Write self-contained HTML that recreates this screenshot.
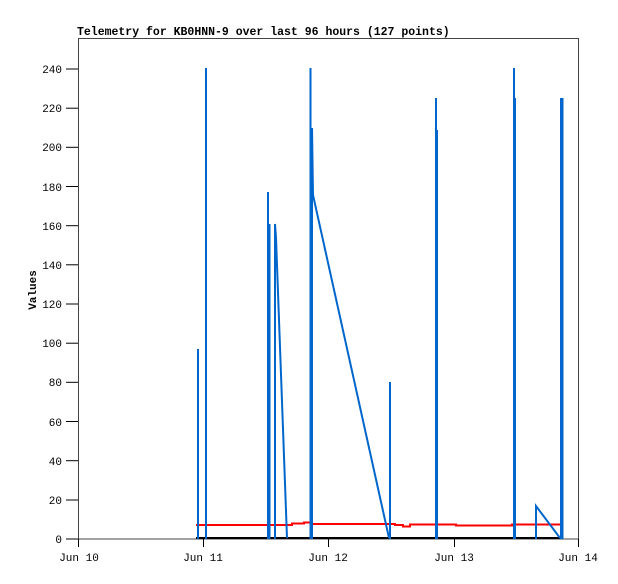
<!DOCTYPE html>
<html><head><meta charset="utf-8"><style>
html,body{margin:0;padding:0;background:#fff;}
svg text{font-family:"Liberation Mono","DejaVu Sans Mono",monospace;font-size:11px;fill:#000;}
</style></head><body>
<svg width="618" height="579" viewBox="0 0 618 579" xmlns="http://www.w3.org/2000/svg">
<rect width="618" height="579" fill="#fff"/>
<text x="77" y="35" style="font-weight:bold;font-size:11.5px">Telemetry for KB0HNN-9 over last 96 hours (127 points)</text>
<rect x="78.5" y="38.5" width="500" height="500.5" fill="none" stroke="#444" stroke-width="1"/>
<g stroke="#000" stroke-width="1">
<line x1="66" y1="539" x2="78" y2="539"/>
<line x1="66" y1="500" x2="78" y2="500"/>
<line x1="66" y1="460.7" x2="78" y2="460.7"/>
<line x1="66" y1="421.5" x2="78" y2="421.5"/>
<line x1="66" y1="382.3" x2="78" y2="382.3"/>
<line x1="66" y1="343.2" x2="78" y2="343.2"/>
<line x1="66" y1="304" x2="78" y2="304"/>
<line x1="66" y1="264.8" x2="78" y2="264.8"/>
<line x1="66" y1="225.7" x2="78" y2="225.7"/>
<line x1="66" y1="186.5" x2="78" y2="186.5"/>
<line x1="66" y1="147.3" x2="78" y2="147.3"/>
<line x1="66" y1="108.2" x2="78" y2="108.2"/>
<line x1="66" y1="69" x2="78" y2="69"/>
<line x1="78.5" y1="539" x2="78.5" y2="547"/>
<line x1="203.5" y1="539" x2="203.5" y2="547"/>
<line x1="328.5" y1="539" x2="328.5" y2="547"/>
<line x1="454.5" y1="539" x2="454.5" y2="547"/>
<line x1="578.5" y1="539" x2="578.5" y2="547"/>
</g>
<g text-anchor="end">
<text x="62" y="543">0</text>
<text x="62" y="504">20</text>
<text x="62" y="465">40</text>
<text x="62" y="426">60</text>
<text x="62" y="386">80</text>
<text x="62" y="347">100</text>
<text x="62" y="308">120</text>
<text x="62" y="269">140</text>
<text x="62" y="230">160</text>
<text x="62" y="191">180</text>
<text x="62" y="151">200</text>
<text x="62" y="112">220</text>
<text x="62" y="73">240</text>
</g>
<g text-anchor="middle">
<text x="79" y="561">Jun 10</text>
<text x="203" y="561">Jun 11</text>
<text x="328" y="561">Jun 12</text>
<text x="454" y="561">Jun 13</text>
<text x="578" y="561">Jun 14</text>
</g>
<text transform="translate(36,290) rotate(-90)" text-anchor="middle" style="font-weight:bold">Values</text>
<polyline fill="none" stroke="#f00" stroke-width="2" points="196,525 292,525 292,523.5 304,523.5 304,522.5 312,522.5 312,524 395,524 395,525 403,525 403,526.5 410,526.5 410,524.5 456,524.5 456,525.5 512,525.5 512,524.5 561,524.5"/>
<line x1="196" y1="538" x2="561" y2="538" stroke="#000" stroke-width="2"/>
<g fill="none" stroke="#0066cc" stroke-width="2">
<line x1="198" y1="539" x2="198" y2="349"/>
<line x1="206" y1="539" x2="206" y2="68"/>
<line x1="268" y1="539" x2="268" y2="192"/>
<line x1="269.5" y1="539" x2="269.5" y2="224"/>
<polyline points="275,539 275,224 276,238 287,538"/>
<line x1="310.5" y1="539" x2="310.5" y2="68"/>
<polyline points="312,539 312,128 313,195 389,538"/>
<line x1="390" y1="539" x2="390" y2="382"/>
<line x1="436" y1="539" x2="436" y2="98"/>
<line x1="437" y1="539" x2="437" y2="130"/>
<line x1="514" y1="539" x2="514" y2="68"/>
<line x1="515" y1="539" x2="515" y2="98"/>
<polyline points="536,539 536,506 560,538"/>
<line x1="561" y1="539" x2="561" y2="98"/>
<line x1="562.5" y1="539" x2="562.5" y2="98"/>
</g>
</svg>
</body></html>
